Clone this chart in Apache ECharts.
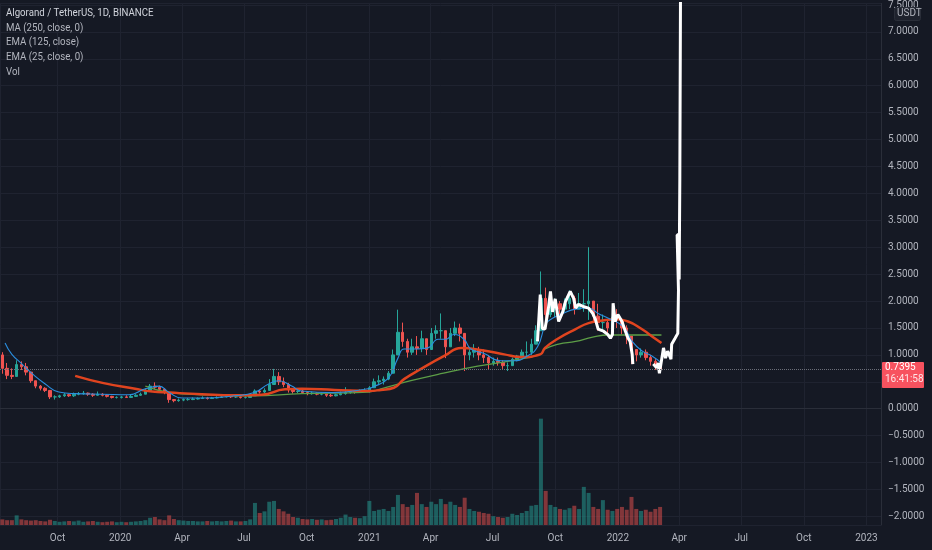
<!DOCTYPE html>
<html>
<head>
<meta charset="utf-8">
<script src="https://cdn.jsdelivr.net/npm/echarts@6.0.0/dist/echarts.min.js"></script>
<style>
html,body{margin:0;padding:0;background:#151924;}
#chart{width:932px;height:550px;}
</style>
</head>
<body>
<div id="chart"></div>
<script>
// weekly candles starting 2019-07-12
const firstWeek = '2019-07-12';
const closes = [0.75,0.62,0.60,0.82,0.78,0.68,0.52,0.42,0.38,0.34,0.22,0.22,0.24,0.26,0.24,0.27,0.28,0.29,0.27,0.25,
  0.27,0.25,0.23,0.21,0.21,0.22,0.21,0.23,0.25,0.27,0.34,0.42,0.40,0.36,0.30,0.17,0.15,0.16,0.17,0.17,
  0.18,0.19,0.20,0.19,0.20,0.21,0.22,0.23,0.22,0.22,0.21,0.21,0.24,0.33,0.31,0.34,0.45,0.60,0.50,0.45,
  0.35,0.32,0.33,0.30,0.28,0.29,0.27,0.27,0.25,0.24,0.26,0.28,0.30,0.32,0.31,0.33,0.34,0.39,0.50,0.52,
  0.55,0.66,1.00,1.42,1.25,1.05,1.15,1.12,1.30,1.10,1.40,1.45,1.45,1.15,1.40,1.50,1.40,1.00,1.05,1.10,
  1.00,0.95,0.85,0.88,0.86,0.80,0.80,0.92,0.98,1.05,1.05,1.20,1.45,2.05,1.75,1.85,1.95,1.85,1.95,2.05,
  1.85,1.95,1.95,2.00,1.72,1.60,1.60,1.50,1.70,1.65,1.50,1.35,1.10,1.00,1.05,0.95,0.88,0.80,0.74];
const highs = [1.05,0.85,0.75,0.90,0.88,0.85,0.66,0.52,0.44,0.40,0.32,0.25,0.26,0.29,0.28,0.30,0.31,0.33,0.30,0.29,
  0.32,0.29,0.27,0.24,0.23,0.24,0.25,0.26,0.27,0.30,0.38,0.46,0.49,0.43,0.38,0.30,0.18,0.19,0.19,0.20,
  0.21,0.21,0.23,0.22,0.22,0.23,0.25,0.25,0.25,0.24,0.23,0.23,0.26,0.36,0.35,0.38,0.55,0.74,0.68,0.58,
  0.48,0.38,0.37,0.35,0.32,0.32,0.30,0.30,0.28,0.28,0.28,0.32,0.40,0.35,0.34,0.36,0.38,0.42,0.56,0.62,
  0.60,0.70,1.10,1.84,1.60,1.30,1.30,1.35,1.45,1.30,1.50,1.55,1.77,1.45,1.50,1.62,1.58,1.40,1.15,1.20,
  1.15,1.10,1.00,0.95,0.95,0.90,0.86,0.95,1.00,1.10,1.25,1.30,1.55,2.55,2.25,2.10,2.05,2.00,2.05,2.20,
  2.10,2.15,2.22,3.00,1.95,1.95,1.75,1.65,1.85,1.85,1.65,1.55,1.30,1.07,1.12,1.10,1.00,0.92,0.85];
const lows = [0.65,0.55,0.55,0.60,0.72,0.62,0.48,0.38,0.34,0.31,0.18,0.17,0.20,0.22,0.22,0.22,0.25,0.26,0.24,0.22,
  0.24,0.23,0.21,0.19,0.19,0.19,0.20,0.20,0.22,0.24,0.27,0.33,0.36,0.31,0.27,0.11,0.12,0.13,0.14,0.15,
  0.16,0.17,0.18,0.17,0.18,0.19,0.20,0.21,0.20,0.20,0.19,0.19,0.20,0.24,0.28,0.29,0.33,0.45,0.44,0.40,
  0.30,0.28,0.29,0.28,0.25,0.26,0.25,0.25,0.22,0.22,0.23,0.25,0.26,0.28,0.28,0.30,0.31,0.30,0.40,0.46,
  0.45,0.53,0.68,1.00,1.15,0.95,1.00,1.00,1.05,1.00,1.10,1.30,1.30,0.94,1.15,1.35,1.25,0.70,0.90,0.95,
  0.90,0.85,0.72,0.80,0.80,0.74,0.70,0.80,0.88,0.95,0.95,1.00,1.20,1.45,1.65,1.70,1.70,1.75,1.80,1.85,
  1.75,1.85,1.80,1.65,1.60,1.45,1.45,1.40,1.50,1.50,1.38,1.20,0.83,0.88,0.95,0.90,0.80,0.72,0.70];
const volumes = [14,12,12,24,14,12,
  11,12,10,9,13,10,8,9,10,9,11,8,9,10,8,7,8,9,7,
  8,7,8,9,10,12,18,20,14,12,
  24,15,12,11,10,10,9,9,10,9,10,9,10,11,9,9,10,14,
  55,30,34,58,60,40,34,28,
  20,18,15,14,15,13,14,12,13,15,18,26,20,18,17,22,
  60,35,38,40,35,45,
  75,52,45,50,80,52,
  45,58,52,65,52,58,50,45,
  68,40,35,33,30,28,22,20,18,20,28,25,30,35,
  48,50,265,
  85,50,45,40,38,42,48,40,95,80,
  45,40,62,38,35,40,45,38,70,40,35,38,33,40,45];

const ma250 = [['2020-02-07',0.42],['2020-03-14',0.30],['2020-04-30',0.26],['2020-07-12',0.24],['2020-09-24',0.28],
  ['2020-12-31',0.31],['2021-01-18',0.37],['2021-03-03',0.52],['2021-04-20',0.66],['2021-06-09',0.79],
  ['2021-07-27',0.89],['2021-09-09',1.01],['2021-09-16',1.11],['2021-10-06',1.20],['2021-10-31',1.25],
  ['2021-11-25',1.33],['2021-12-18',1.37],['2022-01-12',1.37],['2022-02-05',1.37],['2022-03-06',1.37]];
const ema125 = [['2019-10-27',0.61],['2019-12-06',0.48],['2020-01-23',0.37],['2020-02-17',0.32],['2020-03-14',0.30],
  ['2020-04-30',0.27],['2020-06-17',0.25],['2020-07-27',0.26],['2020-08-30',0.36],['2020-09-24',0.37],
  ['2020-11-11',0.35],['2020-12-31',0.33],['2021-01-18',0.35],['2021-02-06',0.39],['2021-02-21',0.55],
  ['2021-03-18',0.74],['2021-04-21',0.98],['2021-05-16',1.13],['2021-06-18',1.08],['2021-07-18',1.01],
  ['2021-08-12',0.96],['2021-09-09',1.01],['2021-09-16',1.13],['2021-10-06',1.31],['2021-10-31',1.48],
  ['2021-11-19',1.59],['2021-12-10',1.64],['2021-12-28',1.66],['2022-01-16',1.62],['2022-02-05',1.48],
  ['2022-02-24',1.31],['2022-03-06',1.22]];
const ema25 = [['2019-07-16',1.22],['2019-07-26',1.01],['2019-08-10',0.83],['2019-08-24',0.66],['2019-09-13',0.46],
  ['2019-10-03',0.31],['2019-10-27',0.28],['2019-12-05',0.27],['2020-01-14',0.26],['2020-02-07',0.37],
  ['2020-02-27',0.42],['2020-03-13',0.30],['2020-04-01',0.20],['2020-04-30',0.20],['2020-06-17',0.24],
  ['2020-07-16',0.30],['2020-08-06',0.46],['2020-08-21',0.52],['2020-09-09',0.42],['2020-09-23',0.33],
  ['2020-11-11',0.30],['2020-12-30',0.37],['2021-01-04',0.39],['2021-01-29',0.57],['2021-02-12',0.94],
  ['2021-02-21',1.11],['2021-03-13',1.11],['2021-03-28',1.13],['2021-04-12',1.29],['2021-04-23',1.29],
  ['2021-05-05',1.38],['2021-05-20',1.29],['2021-05-30',1.11],['2021-06-18',1.03],['2021-07-13',0.89],
  ['2021-08-01',0.89],['2021-08-21',0.98],['2021-09-05',1.15],['2021-09-17',1.57],['2021-09-27',1.68],
  ['2021-10-12',1.77],['2021-10-31',1.85],['2021-11-19',1.87],['2021-12-03',1.77],['2021-12-18',1.68],
  ['2022-01-02',1.59],['2022-01-12',1.48],['2022-01-22',1.25],['2022-02-06',1.07],['2022-02-20',0.98],
  ['2022-03-06',0.85]];
// hand drawn white brush line
const brushA = [['2021-09-05',1.25],['2021-09-09',2.12],['2021-09-12',1.49],['2021-09-16',1.48],['2021-09-21',1.87],
  ['2021-09-24',2.18],['2021-09-27',1.80],['2021-10-01',2.04],['2021-10-06',1.62],['2021-10-12',1.80],
  ['2021-10-16',1.99],['2021-10-23',2.18],['2021-10-28',2.05],['2021-10-31',1.87],['2021-11-04',1.94],
  ['2021-11-11',1.90],['2021-11-19',1.87],['2021-11-25',1.77],['2021-11-29',1.66],['2021-12-03',1.48],
  ['2021-12-11',1.44],['2021-12-17',1.38],['2021-12-21',1.31],['2021-12-24',1.38],['2021-12-25',1.96],
  ['2021-12-28',1.62],['2022-01-01',1.75],['2022-01-07',1.62],['2022-01-12',1.44],['2022-01-16',1.31],
  ['2022-01-19',1.25],['2022-01-22',1.01],['2022-01-23',0.83]];
const brushB = [['2022-02-22',0.83],['2022-02-27',0.76],['2022-03-01',0.85],['2022-03-03',0.66],['2022-03-06',0.89],
  ['2022-03-09',1.13],['2022-03-12',0.94],['2022-03-15',1.07],['2022-03-20',0.92],['2022-03-21',1.20],
  ['2022-03-26',1.31],['2022-03-30',1.40],['2022-03-31',2.20],['2022-03-29',2.20],['2022-03-29',3.23],
  ['2022-04-01',3.23],['2022-04-01',2.40],['2022-04-02',4.30],['2022-04-03',7.80]];

const lastPrice = 0.7395;
const countdown = '16:41:58';
const legendLines = ['Algorand / TetherUS, 1D, BINANCE', 'MA (250, close, 0)', 'EMA (125, close)', 'EMA (25, close, 0)', 'Vol'];

const FONT = "Roboto,'Liberation Sans',sans-serif";
const UP = '#26a69a', DOWN = '#ef5350';

let t0 = new Date(firstWeek + 'T00:00:00').getTime();
let candles = [], vols = [];
for (let i = 0; i < closes.length; i++) {
    let t = t0 + i * 7 * 86400000;
    let o = i === 0 ? 1.0 : closes[i - 1];
    candles.push([t, o, closes[i], lows[i], highs[i]]);
    vols.push({value: [t, volumes[i]], itemStyle: {color: closes[i] >= o ? 'rgba(38,166,154,0.5)' : 'rgba(239,83,80,0.5)'}});
}

function fmtPrice(v) {
    if (Math.abs(v * 2 - Math.round(v * 2)) > 1e-6) return '';
    let s = Math.abs(v).toFixed(4);
    return v < -1e-9 ? '\u2212' + s : s;
}

let chart = echarts.init(document.getElementById('chart'));
let option = {
    backgroundColor: '#151924',
    animation: false,
    grid: {left: 0, right: 51, top: 0, bottom: 25},
    xAxis: {
        type: 'time',
        min: '2019-07-11T12:00:00',
        max: '2023-01-19T12:00:00',
        splitNumber: 14,
        axisLine: {lineStyle: {color: '#2a2e39'}},
        axisTick: {show: false},
        axisLabel: {
            color: '#b2b5be', fontSize: 10, fontFamily: FONT, margin: 8,
            formatter: {year: '{yyyy}', month: '{MMM}', day: '', hour: '', minute: '', second: '', millisecond: ''}
        },
        splitLine: {show: true, lineStyle: {color: '#1f2330'}}
    },
    yAxis: [{
        type: 'value',
        position: 'right',
        min: -2.16,
        max: 7.53,
        splitNumber: 19,
        axisLine: {show: true, lineStyle: {color: '#2a2e39'}},
        axisTick: {show: false},
        axisLabel: {color: '#b2b5be', fontSize: 10, fontFamily: FONT, margin: 7, formatter: fmtPrice},
        splitLine: {lineStyle: {color: '#1f2330'}}
    }, {
        type: 'value',
        min: 0,
        max: 1300,
        show: false,
        splitLine: {show: false}
    }],
    series: [
        {
            name: 'Vol', type: 'bar', yAxisIndex: 1, barWidth: 4, data: vols
        },
        {
            name: 'ALGOUSDT', type: 'candlestick', barWidth: 3, data: candles,
            itemStyle: {color: UP, color0: DOWN, borderColor: UP, borderColor0: DOWN, borderWidth: 1},
            markLine: {
                symbol: 'none', silent: true,
                lineStyle: {type: 'dotted', color: '#6b6e78', width: 1},
                label: {show: false},
                data: [{yAxis: lastPrice}]
            }
        },
        {name: 'MA 250', type: 'line', data: ma250, smooth: true, showSymbol: false, lineStyle: {color: '#5d9e47', width: 1.3}},
        {name: 'EMA 125', type: 'line', data: ema125, smooth: true, showSymbol: false, lineStyle: {color: '#e0441f', width: 2.5}},
        {name: 'EMA 25', type: 'line', data: ema25, smooth: true, showSymbol: false, lineStyle: {color: '#2a8fe0', width: 1.1}},
        {name: 'brushA', type: 'line', data: brushA, showSymbol: false, lineStyle: {color: '#ffffff', width: 3}},
        {name: 'brushB', type: 'line', data: brushB, showSymbol: false, lineStyle: {color: '#ffffff', width: 3}}
    ]
};
chart.setOption(option);

// overlay texts: legend, currency tag, last price tag (placed through the y scale)
let py = chart.convertToPixel({yAxisIndex: 0}, lastPrice);
let graphics = legendLines.map(function (txt, i) {
    return {
        type: 'text', x: 6, y: 8 + i * 14.6, scaleX: 0.88, z: 100,
        style: {text: txt, fill: i === 0 ? '#d1d4dc' : '#b2b5be', font: '11px ' + FONT}
    };
});
graphics.push(
    {type: 'rect', left: 894, top: 7, z: 100, shape: {width: 26, height: 13, r: 2}, style: {fill: '#1e222d', stroke: '#2a2e39'}},
    {type: 'text', x: 897, y: 8, z: 101, style: {text: 'USDT', fill: '#b2b5be', font: '10px ' + FONT}},
    {type: 'rect', x: 882, y: py - 7, z: 100, shape: {width: 42, height: 26, r: 1}, style: {fill: '#f7525f'}},
    {type: 'text', x: 885, y: py - 6, z: 101, style: {text: lastPrice.toFixed(4), fill: '#ffffff', font: '10px ' + FONT}},
    {type: 'text', x: 885, y: py + 6, z: 101, style: {text: countdown, fill: '#ffe4e6', font: '10px ' + FONT}}
);
chart.setOption({graphic: graphics});
window.addEventListener('resize', function () {chart.resize();});
</script>
</body>
</html>
